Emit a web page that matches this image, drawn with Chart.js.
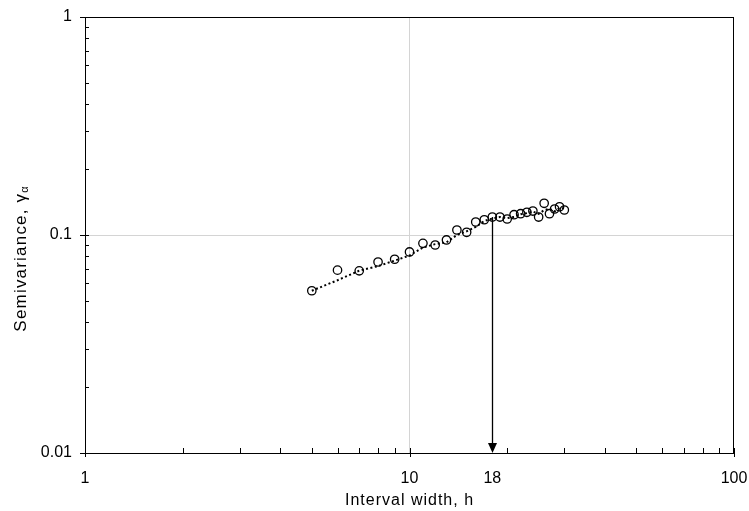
<!DOCTYPE html>
<html>
<head>
<meta charset="utf-8">
<script src="https://cdn.jsdelivr.net/npm/chart.js@4"></script>
<style>
  html, body { margin: 0; padding: 0; background: #fff; }
  #wrap { width: 749px; height: 511px; }
</style>
</head>
<body>
<div id="wrap"><canvas id="semiChart" width="749" height="511"></canvas></div>
<script>
    // interval widths and measured semivariance
    const intervalWidths = [5, 6, 7, 8, 9, 10, 11, 12, 13, 14, 15, 16, 17, 18, 19, 20, 21, 22, 23, 24, 25, 26, 27, 28, 29, 30];
    const semivariance = [0.0555, 0.0690, 0.0685, 0.0752, 0.0774, 0.0836, 0.0916, 0.0900, 0.0949, 0.1054, 0.1029, 0.1147, 0.1175, 0.1209,
        0.1209, 0.1184, 0.1239, 0.1252, 0.1271, 0.1288, 0.1209, 0.1398, 0.1252, 0.1316, 0.1348, 0.1302];

    // dotted trend line
    const trendWidths = [5, 6, 7, 8, 9, 10, 11, 12, 13, 14, 15, 16, 17, 18, 19, 20, 21, 22, 23, 24, 25, 26, 27, 28, 29, 30];
    const trendValues = [0.0555, 0.0620, 0.0686, 0.0720, 0.0763, 0.0805, 0.0876, 0.0908, 0.0925, 0.1000, 0.1040, 0.1090, 0.1160, 0.1190,
        0.1210, 0.1195, 0.1210, 0.1245, 0.1260, 0.1280, 0.1250, 0.1300, 0.1320, 0.1285, 0.1330, 0.1325];

    // arrow marking the range
    const arrowX = 18;
    const arrowFrom = 0.1209;
    const arrowTo = 0.01;

    // tick labels and minor ticks
    const xTicks = [1, 10, 18, 100];
    const yTicks = [0.01, 0.1, 1];
    const xMajor = [1, 10, 100];
    const xMinor = [2, 3, 4, 5, 6, 7, 8, 9, 20, 30, 40, 50, 60, 70, 80, 90];
    const yMinor = [0.02, 0.03, 0.04, 0.05, 0.06, 0.07, 0.08, 0.09, 0.2, 0.3, 0.4, 0.5, 0.6, 0.7, 0.8, 0.9];

    const xTitle = 'Interval width, h';
    const yTitle = 'Semivariance, \u03B3';
    const yTitleSub = '\u03B1';

    const FONT = 'Liberation Sans, Arial, sans-serif';

    const toPoints = (xs, ys) => xs.map((x, i) => ({ x: x, y: ys[i] }));

    const framePlugin = {
        id: 'frame',
        beforeDatasetsDraw(chart) {
            const c = chart.ctx, x = chart.scales.x, y = chart.scales.y;
            // arrow
            const px = Math.round(x.getPixelForValue(arrowX)) + 0.5;
            const y0 = y.getPixelForValue(arrowFrom);
            const y1 = y.getPixelForValue(arrowTo);
            c.save();
            c.strokeStyle = '#000';
            c.lineWidth = 1.3;
            c.beginPath();
            c.moveTo(px, y0);
            c.lineTo(px, y1 - 8);
            c.stroke();
            c.fillStyle = '#000';
            c.beginPath();
            c.moveTo(px - 4.5, y1 - 10);
            c.lineTo(px + 4.5, y1 - 10);
            c.lineTo(px, y1);
            c.closePath();
            c.fill();
            c.restore();
        },
        afterDraw(chart) {
            const c = chart.ctx, a = chart.chartArea, x = chart.scales.x, y = chart.scales.y;
            c.save();
            c.strokeStyle = '#000';
            c.lineWidth = 1;
            c.strokeRect(Math.round(a.left) + 0.5, Math.round(a.top) + 0.5, Math.round(a.right - a.left) - 1, Math.round(a.bottom - a.top));
            c.beginPath();
            xMinor.forEach(v => {
                const p = Math.round(x.getPixelForValue(v)) + 0.5;
                c.moveTo(p, a.bottom);
                c.lineTo(p, a.bottom - 5);
            });
            xMajor.forEach(v => {
                const p = Math.round(x.getPixelForValue(v)) + 0.5;
                c.moveTo(p, a.bottom + 4);
                c.lineTo(p, a.bottom - 5);
            });
            yMinor.forEach(v => {
                const p = Math.round(y.getPixelForValue(v)) + 0.5;
                c.moveTo(a.left, p);
                c.lineTo(a.left + 4, p);
            });
            yTicks.forEach(v => {
                const p = Math.round(y.getPixelForValue(v)) + 0.5;
                c.moveTo(a.left - 5, p);
                c.lineTo(a.left + 4, p);
            });
            c.stroke();

            c.fillStyle = '#000';
            c.textBaseline = 'middle';

            // x title
            c.font = '16px ' + FONT;
            c.letterSpacing = '1px';
            c.textAlign = 'center';
            c.fillText(xTitle, (a.left + a.right) / 2, 501);

            // y title with subscript alpha
            c.translate(21, 259);
            c.rotate(-Math.PI / 2);
            c.font = '17px ' + FONT;
            c.letterSpacing = '1.2px';
            const w1 = c.measureText(yTitle).width;
            c.font = '11px ' + FONT;
            c.letterSpacing = '0px';
            const w2 = c.measureText(yTitleSub).width;
            const start = -(w1 + w2) / 2;
            c.textAlign = 'left';
            c.font = '17px ' + FONT;
            c.letterSpacing = '1.2px';
            c.fillText(yTitle, start, 0);
            c.font = '11px ' + FONT;
            c.letterSpacing = '0px';
            c.fillText(yTitleSub, start + w1, 4);
            c.restore();
        }
    };

    new Chart(document.getElementById('semiChart'), {
        type: 'scatter',
        data: {
            datasets: [{
                label: 'Trend',
                data: toPoints(trendWidths, trendValues),
                showLine: true,
                borderColor: '#000',
                borderWidth: 2,
                borderDash: [2, 2.5],
                pointRadius: 0,
                fill: false
            }, {
                label: 'Semivariance',
                data: toPoints(intervalWidths, semivariance),
                showLine: false,
                pointRadius: 4.2,
                pointBorderWidth: 1.3,
                pointBorderColor: '#000',
                pointBackgroundColor: 'rgba(0,0,0,0)'
            }]
        },
        options: {
            responsive: false,
            animation: false,
            devicePixelRatio: 1,
            layout: { padding: { top: 17, right: 15, left: 0, bottom: 0 } },
            plugins: {
                legend: { display: false },
                tooltip: { enabled: false }
            },
            scales: {
                x: {
                    type: 'logarithmic',
                    min: 1,
                    max: 100,
                    afterBuildTicks: s => { s.ticks = xTicks.map(v => ({ value: v })); },
                    afterFit: s => { s.height = 58; s.paddingLeft = 0; s.paddingRight = 0; },
                    grid: {
                        drawTicks: false,
                        color: ctx => (ctx.tick && ctx.tick.value === 10) ? '#d4d4d4' : 'rgba(0,0,0,0)'
                    },
                    border: { color: '#000', width: 1 },
                    ticks: {
                        padding: 16,
                        maxRotation: 0,
                        autoSkip: false,
                        color: '#000',
                        font: { family: FONT, size: 16 },
                        callback: v => String(v)
                    }
                },
                y: {
                    type: 'logarithmic',
                    min: 0.01,
                    max: 1,
                    afterBuildTicks: s => { s.ticks = yTicks.map(v => ({ value: v })); },
                    afterFit: s => { s.width = 85; s.paddingTop = 0; s.paddingBottom = 0; },
                    grid: {
                        drawTicks: false,
                        color: ctx => (ctx.tick && ctx.tick.value === 0.1) ? '#d4d4d4' : 'rgba(0,0,0,0)'
                    },
                    border: { color: '#000', width: 1 },
                    ticks: {
                        padding: 13,
                        autoSkip: false,
                        color: '#000',
                        font: { family: FONT, size: 16 },
                        callback: v => String(v)
                    }
                }
            }
        },
        plugins: [framePlugin]
    });
</script>
</body>
</html>
